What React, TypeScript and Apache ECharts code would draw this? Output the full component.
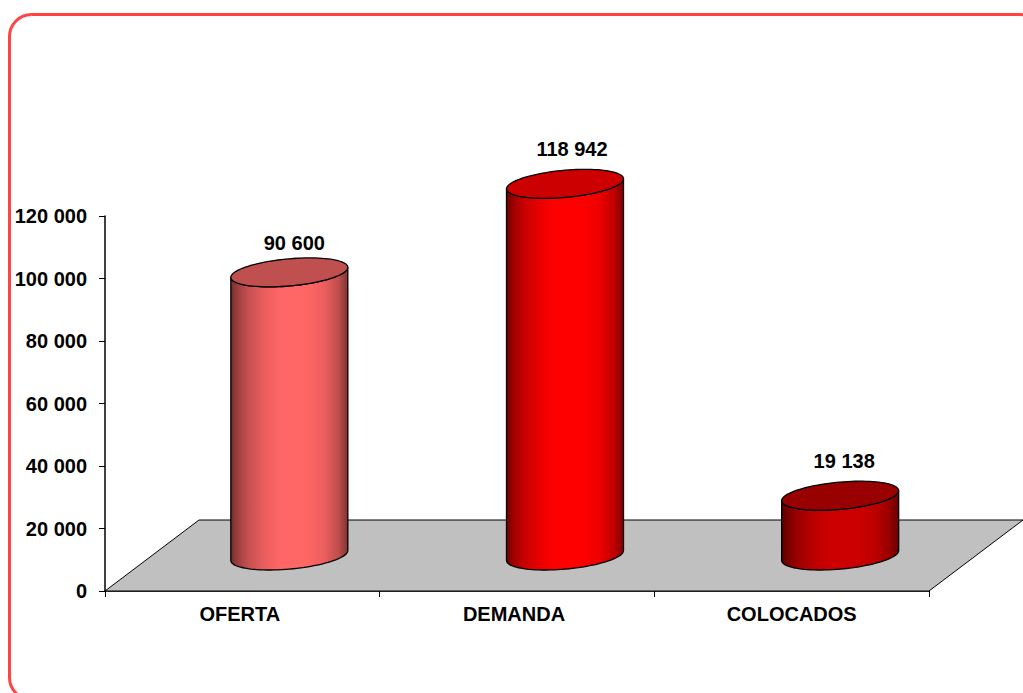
import React, { useEffect, useRef } from "react";
import * as echarts from "echarts";

const categories = ["OFERTA", "DEMANDA", "COLOCADOS"];
const values = [90600, 118942, 19138];
const valueLabels = ["90 600", "118 942", "19 138"];
const yTicks = [0, 20000, 40000, 60000, 80000, 100000, 120000];

const bodyMid = [
  [255, 102, 102],
  [255, 0, 0],
  [204, 0, 0],
];
const shadeStops = [
  [0, 0.45],
  [0.06, 0.62],
  [0.15, 0.78],
  [0.3, 0.93],
  [0.42, 1],
  [0.65, 1],
  [0.8, 0.92],
  [0.92, 0.75],
  [1, 0.5],
];
const topFill = ["#c0504f", "#cc0000", "#990000"];
const labelNudge = [
  [5, 0],
  [7, -5],
  [4, -5],
];
const cylinderNudge = [0, 1, 1.5];
const categoryLabelPad = [5, 6, 0];

const FONT = '"Liberation Sans", Arial, sans-serif';
const FONT_SIZE = 20;
const OUTLINE = 1.3;
const DEPTH_X = 94;
const DEPTH_Y = 71;
const A = 58.5;
const SLANT = 5;
const MINOR = 13.6;

const arc = (cx: number, cy: number, from: number, to: number, n = 48) => {
  const pts: number[][] = [];
  for (let i = 0; i <= n; i++) {
    const t = from + ((to - from) * i) / n;
    pts.push([cx + A * Math.cos(t), cy - SLANT * Math.cos(t) + MINOR * Math.sin(t)]);
  }
  return pts;
};

const renderFloor = (params: any, api: any) => {
  const cs = params.coordSys;
  const origin = api.coord([0, 0]);
  const l = cs.x;
  const r = cs.x + cs.width;
  return {
    type: "polygon",
    shape: {
      points: [
        [l, origin[1]],
        [r, origin[1]],
        [r + DEPTH_X, origin[1] - DEPTH_Y],
        [l + DEPTH_X, origin[1] - DEPTH_Y],
      ],
    },
    style: { fill: "#c0c0c0", stroke: "#000", lineWidth: 1 },
    silent: true,
  };
};

const renderCylinder = (params: any, api: any) => {
  const i = api.value(0);
  const top = api.coord([i, api.value(1)]);
  const base = api.coord([i, 0]);
  const cx = top[0] + DEPTH_X / 2 + cylinderNudge[i];
  const yTop = top[1] - DEPTH_Y / 2;
  const yBase = base[1] - DEPTH_Y / 2;
  const front = arc(cx, yBase, Math.PI, 0);
  const back = arc(cx, yTop, 0, Math.PI);
  const mid = bodyMid[i];
  return {
    type: "group",
    silent: true,
    children: [
      {
        type: "polygon",
        shape: { points: [...front, ...back] },
        style: {
          fill: new echarts.graphic.LinearGradient(
            0,
            0,
            1,
            0,
            shadeStops.map(([offset, s]) => ({
              offset,
              color: `rgb(${mid.map((c) => Math.round(c * s)).join(",")})`,
            }))
          ),
          stroke: "#000",
          lineWidth: OUTLINE,
        },
      },
      {
        type: "polygon",
        shape: { points: arc(cx, yTop, 0, Math.PI * 2, 96) },
        style: { fill: topFill[i], stroke: "#000", lineWidth: OUTLINE },
      },
      {
        type: "text",
        style: {
          x: cx + labelNudge[i][0],
          y: yTop - 29.5 + labelNudge[i][1],
          text: valueLabels[i],
          fill: "#000",
          font: `bold ${FONT_SIZE}px ${FONT}`,
          align: "center",
          verticalAlign: "middle",
        },
      },
    ],
  };
};

const labelText = { color: "#000", fontFamily: FONT, fontWeight: "bold", fontSize: FONT_SIZE };

export default function App() {
  const ref = useRef<HTMLDivElement>(null);
  useEffect(() => {
    const chart = echarts.init(ref.current!, undefined, { renderer: "svg" });
    const rich: any = {};
    categories.forEach((_, i) => {
      rich[`c${i}`] = { ...labelText, padding: [0, categoryLabelPad[i], 0, 0] };
    });
    chart.setOption({
      animation: false,
      backgroundColor: "#fff",
      graphic: [
        {
          type: "rect",
          z: -10,
          shape: { x: 9.5, y: 14.5, width: 1032, height: 685, r: 22 },
          style: { fill: "#fff", stroke: "#ff4444", lineWidth: 3 },
          silent: true,
        },
      ],
      grid: { left: 105, right: 94, top: 216, bottom: 102 },
      xAxis: {
        type: "category",
        data: categories,
        axisLine: { lineStyle: { color: "#000", width: 1.5 } },
        axisTick: { show: true, length: 6, alignWithLabel: false, lineStyle: { color: "#000" } },
        axisLabel: {
          ...labelText,
          margin: 13,
          rich,
          formatter: (v: string) => `{c${categories.indexOf(v)}|${v}}`,
        },
      },
      yAxis: {
        type: "value",
        min: yTicks[0],
        max: yTicks[yTicks.length - 1],
        interval: yTicks[1] - yTicks[0],
        axisLine: { show: true, lineStyle: { color: "#000", width: 1.5 } },
        axisTick: { show: true, length: 6, lineStyle: { color: "#000" } },
        splitLine: { show: false },
        axisLabel: {
          ...labelText,
          margin: 18,
          formatter: (v: number) => String(v).replace(/\B(?=(\d{3})+$)/g, " "),
        },
      },
      series: [
        {
          type: "custom",
          coordinateSystem: "cartesian2d",
          renderItem: renderFloor,
          data: [[0, 0]],
          z: 1,
          clip: false,
          silent: true,
        },
        {
          type: "custom",
          coordinateSystem: "cartesian2d",
          renderItem: renderCylinder,
          data: values.map((v, i) => [i, v]),
          encode: { x: 0, y: 1 },
          z: 3,
          clip: false,
          silent: true,
        },
      ],
    });
    return () => chart.dispose();
  }, []);
  return <div ref={ref} style={{ position: "fixed", left: 0, top: 0, width: 1023, height: 693 }} />;
}
